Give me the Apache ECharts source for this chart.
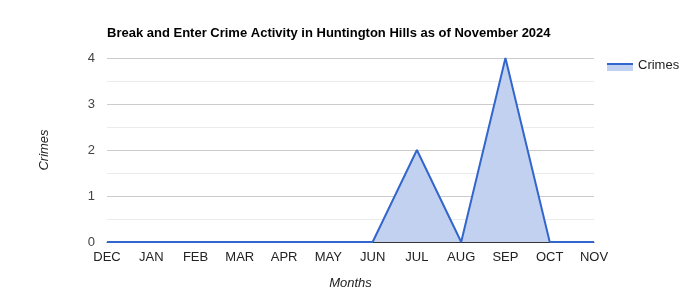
<!DOCTYPE html>
<html>
<head>
<meta charset="utf-8">
<script src="https://cdn.jsdelivr.net/npm/echarts@6/dist/echarts.min.js"></script>
<style>html,body{margin:0;padding:0;background:#fff}#c{width:700px;height:300px}</style>
</head>
<body>
<div id="c"></div>
<script>
const categories = ['DEC','JAN','FEB','MAR','APR','MAY','JUN','JUL','AUG','SEP','OCT','NOV'];
const crimes = [0,0,0,0,0,0,0,2,0,4,0,0];
const yTicks = [0,1,2,3,4];

const chart = echarts.init(document.getElementById('c'), null, {renderer:'canvas'});
const font = 'Arial, "Liberation Sans", sans-serif';
chart.setOption({
  animation: false,
  backgroundColor: '#fff',
  title: {
    text: 'Break and Enter Crime Activity in Huntington Hills as of November 2024',
    left: 102, top: 22,
    textStyle: {fontFamily: font, fontSize: 13, fontWeight: 'bold', color: '#000'}
  },
  legend: {
    left: 600, top: 54,
    icon: 'none',
    itemWidth: 28, itemHeight: 10, itemGap: 5,
    textStyle: {fontFamily: font, fontSize: 13, color: '#222'},
    data: ['Crimes']
  },
  graphic: [
    {type:'rect', shape:{x:607, y:64, width:26, height:7}, style:{fill:'#c2d1f0'}},
    {type:'line', shape:{x1:607, y1:64, x2:633, y2:64}, style:{stroke:'#3366cc', lineWidth:2}}
  ],
  grid: {left: 107, right: 106, top: 58, bottom: 58, containLabel: false},
  xAxis: {
    type: 'category',
    data: categories,
    boundaryGap: false,
    name: 'Months', nameLocation: 'middle', nameGap: 35,
    nameTextStyle: {fontFamily: font, fontSize: 13, fontStyle: 'italic', color: '#222'},
    axisLine: {show: true, lineStyle: {color: '#333', width: 1}},
    axisTick: {show: false},
    axisLabel: {fontFamily: font, fontSize: 13, color: '#222', margin: 9},
    splitLine: {show: false}
  },
  yAxis: {
    type: 'value', min: 0, max: 4, interval: 1,
    name: 'Crimes', nameLocation: 'middle', nameGap: 56,
    nameTextStyle: {fontFamily: font, fontSize: 13, fontStyle: 'italic', color: '#222'},
    axisLine: {show: false}, axisTick: {show: false},
    axisLabel: {fontFamily: font, fontSize: 13, color: '#444', margin: 12,
      formatter: v => yTicks.includes(v) ? String(v) : ''},
    splitLine: {show: true, lineStyle: {color: '#cccccc', width: 1}},
    minorTick: {show: false, splitNumber: 2},
    minorSplitLine: {show: true, lineStyle: {color: '#ebebeb', width: 1}}
  },
  series: [{
    name: 'Crimes',
    type: 'line',
    data: crimes,
    symbol: 'none',
    lineStyle: {color: '#3366cc', width: 2},
    itemStyle: {color: '#3366cc'},
    areaStyle: {color: '#c2d1f0', opacity: 1}
  }]
});
</script>
</body>
</html>
